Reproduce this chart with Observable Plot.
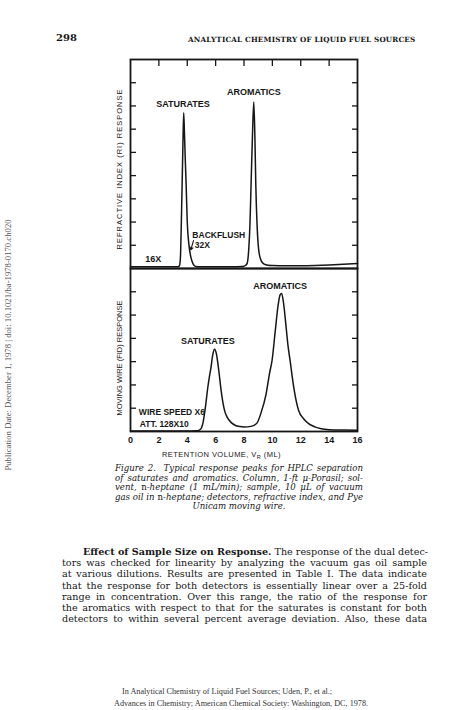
<!DOCTYPE html>
<html><head><meta charset="utf-8">
<script src="https://cdn.jsdelivr.net/npm/d3@7"></script>
<script src="https://cdn.jsdelivr.net/npm/@observablehq/plot@0.6"></script>
<style>
html,body{margin:0;padding:0;background:#fff;}
#page{position:relative;width:474px;height:710px;overflow:hidden;background:#fff;color:#161616;}
.abs{position:absolute;white-space:nowrap;}
#pageno{left:56px;top:33px;font:bold 10px "DejaVu Serif",serif;line-height:10px;}
#runhead{left:188px;top:36px;font:bold 7.2px "DejaVu Serif",serif;line-height:8px;letter-spacing:0.18px;}
#xtitle{left:162px;top:450px;font:7.5px "Liberation Sans",Arial,sans-serif;letter-spacing:0.45px;line-height:9px;}
#xtitle sub{font-size:5.5px;vertical-align:-2px;line-height:0;}
#caption{left:115px;top:464px;width:248px;font:italic 8.6px "DejaVu Serif",serif;line-height:9.5px;}
#caption div{white-space:nowrap;text-align:justify;text-align-last:justify;}
#caption div.last{text-align:center;text-align-last:center;}
#caption .up{font-style:normal;}
#body{left:62px;top:546px;width:365px;font:9.6px "DejaVu Serif",serif;line-height:11.2px;}
#body div{white-space:nowrap;text-align:justify;text-align-last:justify;}
#body b{font-weight:bold;}
#side{left:8px;top:345px;transform:translate(-50%,-50%) rotate(-90deg);font:8.7px "Liberation Serif",serif;color:#555;}
#foot{left:0;top:686px;width:474px;font:8.2px "Liberation Serif",serif;color:#333;line-height:12px;}
</style></head>
<body><div id="page">
<div class="abs" id="pageno">298</div>
<div class="abs" id="runhead">ANALYTICAL CHEMISTRY OF LIQUID FUEL SOURCES</div>
<div class="abs" id="xtitle">RETENTION VOLUME, V<sub>R</sub> (ML)</div>
<div class="abs" id="caption">
<div>Figure 2.&nbsp; Typical response peaks for HPLC separation</div>
<div>of saturates and aromatics. Column, 1-ft μ-Porasil; sol-</div>
<div>vent, <span class="up">n</span>-heptane (1 mL/min); sample, 10 μL of vacuum</div>
<div>gas oil in <span class="up">n</span>-heptane; detectors, refractive index, and Pye</div>
<div class="last">Unicam moving wire.</div>
</div>
<div class="abs" id="body">
<div style="padding-left:21px"><b>Effect of Sample Size on Response.</b> The response of the dual detec-</div>
<div>tors was checked for linearity by analyzing the vacuum gas oil sample</div>
<div>at various dilutions. Results are presented in Table I. The data indicate</div>
<div>that the response for both detectors is essentially linear over a 25-fold</div>
<div>range in concentration. Over this range, the ratio of the response for</div>
<div>the aromatics with respect to that for the saturates is constant for both</div>
<div>detectors to within several percent average deviation. Also, these data</div>
</div>
<div class="abs" id="side">Publication Date: December 1, 1978 | doi: 10.1021/ba-1978-0170.ch020</div>
<div class="abs" id="foot">
<div style="position:absolute;left:122px;top:0">In Analytical Chemistry of Liquid Fuel Sources; Uden, P., et al.;</div>
<div style="position:absolute;left:114px;top:12px">Advances in Chemistry; American Chemical Society: Washington, DC, 1978.</div>
</div>
</div>
<script>
// ---- data ----
// Refractive index (RI) trace, upper panel (retention volume mL, response in tick units)
const riX = [0, 1, 2, 3, 3.35, 3.45, 3.52, 3.58, 3.64, 3.7, 3.75, 3.8, 3.86, 3.92, 4.0, 4.11, 4.25, 4.41, 4.58, 5, 6, 7, 7.9, 8.12, 8.22, 8.33, 8.42, 8.5, 8.6, 8.69, 8.77, 8.83, 8.92, 9.04, 9.2, 9.39, 9.7, 10, 11, 12, 13, 14, 15, 16];
const riY = [0.08, 0.08, 0.08, 0.08, 0.08, 0.12, 0.49, 1.9, 3.65, 5.5, 6.71, 5.9, 4.7, 3.65, 2.0, 1.07, 0.5, 0.2, 0.09, 0.08, 0.08, 0.08, 0.09, 0.14, 0.22, 0.78, 1.9, 3.65, 5.8, 7.17, 5.6, 3.65, 1.9, 0.78, 0.35, 0.2, 0.14, 0.13, 0.12, 0.12, 0.13, 0.15, 0.18, 0.22];
// Moving wire (FID) trace, lower panel
const fidX = [0, 2, 4, 4.6, 4.85, 5.0, 5.12, 5.2, 5.31, 5.45, 5.56, 5.66, 5.8, 5.92, 6.05, 6.22, 6.38, 6.53, 6.68, 6.81, 7.1, 7.4, 7.7, 8.0, 8.5, 8.9, 9.2, 9.56, 9.8, 9.98, 10.2, 10.4, 10.55, 10.65, 10.78, 10.95, 11.1, 11.26, 11.4, 11.56, 11.85, 12.2, 12.58, 13.0, 13.45, 14, 15, 16];
const fidY = [0.02, 0.02, 0.02, 0.03, 0.06, 0.15, 0.4, 0.7, 1.19, 1.9, 2.35, 2.7, 3.3, 3.53, 3.35, 2.63, 1.8, 1.19, 0.8, 0.62, 0.38, 0.26, 0.21, 0.19, 0.22, 0.35, 0.8, 1.62, 2.5, 3.06, 4.3, 5.4, 5.88, 5.93, 5.55, 4.6, 3.7, 3.0, 2.35, 1.7, 0.9, 0.55, 0.33, 0.2, 0.12, 0.08, 0.06, 0.05];
// ticks
const xTickValues = [0, 2, 4, 6, 8, 10, 12, 14, 16];
const topTickValues = [2, 4, 6, 8, 10, 12, 14];
const riTickValues = [1, 2, 3, 4, 5, 6, 7, 8];
const fidTickValues = [1, 2, 3, 4, 5, 6];
const xDomain = [0, 16];
const riDomain = [0, 9];
const fidDomain = [0, 7];
// annotations (text, x in mL, y in tick units)
const riCenterText = ["SATURATES", "AROMATICS", "16X"];
const riCenterX = [3.7, 8.7, 1.6];
const riCenterY = [7.1, 7.6, 0.42];
const riStartText = ["BACKFLUSH", "32X"];
const riStartX = [4.36, 4.53];
const riStartY = [1.42, 1.0];
const arrowFrom = [4.44, 1.2];
const arrowTo = [4.25, 0.8];
const fidCenterText = ["AROMATICS", "SATURATES"];
const fidCenterX = [10.55, 5.45];
const fidCenterY = [6.26, 3.88];
const fidStartText = ["WIRE SPEED X6", "ATT. 128X10"];
const fidStartX = [0.59, 0.65];
const fidStartY = [0.83, 0.3];
const riTitle = "REFRACTIVE INDEX (RI) RESPONSE";
const fidTitle = "MOVING WIRE (FID) RESPONSE";

// ---- build tables ----
const riData = riX.map((x, i) => ({x, y: riY[i]}));
const fidData = fidX.map((x, i) => ({x, y: fidY[i]}));
const riCenter = riCenterText.map((t, i) => ({t, x: riCenterX[i], y: riCenterY[i]}));
const riStart = riStartText.map((t, i) => ({t, x: riStartX[i], y: riStartY[i]}));
const fidCenter = fidCenterText.map((t, i) => ({t, x: fidCenterX[i], y: fidCenterY[i]}));
const fidStart = fidStartText.map((t, i) => ({t, x: fidStartX[i], y: fidStartY[i]}));
const arrows = [{x1: arrowFrom[0], y1: arrowFrom[1], x2: arrowTo[0], y2: arrowTo[1]}];

const ink = "#161616";
const sans = "Liberation Sans, Arial, sans-serif";
const common = {width: 474, marginLeft: 130, marginRight: 117};

const topPlot = Plot.plot({
  ...common,
  height: 270, marginTop: 59, marginBottom: 2,
  x: {domain: xDomain},
  y: {domain: riDomain},
  style: {background: "transparent", fontFamily: sans, color: ink},
  marks: [
    Plot.line(riData, {x: "x", y: "y", curve: "monotone-x", stroke: ink, strokeWidth: 1.5}),
    Plot.frame({stroke: ink, strokeWidth: 1.8}),
    Plot.axisX({anchor: "top", ticks: topTickValues, tickSize: 6, insetTop: 6, fill: "none", label: null, stroke: ink, strokeWidth: 1.3}),
    Plot.axisY({anchor: "left", ticks: riTickValues, tickSize: 6, insetLeft: 6, fill: "none", label: null, stroke: ink, strokeWidth: 1.3}),
    Plot.axisY({anchor: "right", ticks: riTickValues, tickSize: 6, insetRight: 6, fill: "none", label: null, stroke: ink, strokeWidth: 1.3}),
    Plot.text(riCenter, {x: "x", y: "y", text: "t", fontSize: 9, fontWeight: "bold", fill: ink}),
    Plot.text(riStart, {x: "x", y: "y", text: "t", fontSize: 8.5, fontWeight: "bold", textAnchor: "start", fill: ink}),
    Plot.arrow(arrows, {x1: "x1", y1: "y1", x2: "x2", y2: "y2", stroke: ink, strokeWidth: 1.1, headLength: 4}),
    Plot.text([riTitle], {text: d => d, frameAnchor: "left", textAnchor: "middle", lineAnchor: "middle", rotate: -90, dx: -11, dy: 5, fontSize: 7.5, fill: ink})
  ]
});

const botPlot = Plot.plot({
  ...common,
  height: 190, marginTop: 6, marginBottom: 21,
  x: {domain: xDomain},
  y: {domain: fidDomain},
  style: {background: "transparent", fontFamily: sans, color: ink},
  marks: [
    Plot.line(fidData, {x: "x", y: "y", curve: "monotone-x", stroke: ink, strokeWidth: 1.5}),
    Plot.frame({stroke: ink, strokeWidth: 1.8}),
    Plot.axisX({anchor: "bottom", ticks: xTickValues, tickSize: 0, tickPadding: 5, label: null, fontSize: 9, fontWeight: "bold", fill: ink}),
    Plot.axisY({anchor: "left", ticks: fidTickValues, tickSize: 6, insetLeft: 6, fill: "none", label: null, stroke: ink, strokeWidth: 1.3}),
    Plot.axisY({anchor: "right", ticks: fidTickValues, tickSize: 6, insetRight: 6, fill: "none", label: null, stroke: ink, strokeWidth: 1.3}),
    Plot.text(fidCenter, {x: "x", y: "y", text: "t", fontSize: 9, fontWeight: "bold", fill: ink}),
    Plot.text(fidStart, {x: "x", y: "y", text: "t", fontSize: 8.5, fontWeight: "bold", textAnchor: "start", fill: ink}),
    Plot.text([fidTitle], {text: d => d, frameAnchor: "left", textAnchor: "middle", lineAnchor: "middle", rotate: -90, dx: -11, dy: 8, fontSize: 7.5, fill: ink})
  ]
});

d3.select(topPlot).selectAll("text").filter(function() { return this.textContent === riTitle; }).style("letter-spacing", "1px");

const page = document.getElementById("page");
for (const [svg, top] of [[topPlot, 0], [botPlot, 262]]) {
  svg.style.position = "absolute";
  svg.style.left = "0px";
  svg.style.top = top + "px";
  page.appendChild(svg);
}
</script>
</body></html>
